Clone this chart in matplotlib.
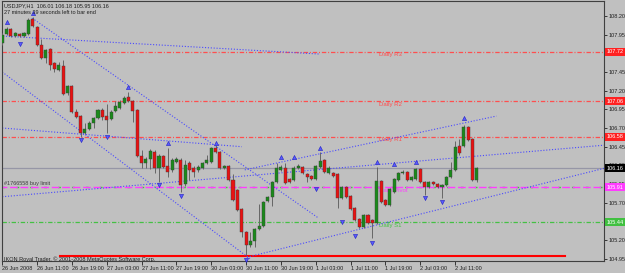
import numpy as np
import matplotlib.pyplot as plt
from matplotlib.transforms import blended_transform_factory

# USDJPY H1 candles, 26 Jun 2008 03:00 .. 2 Jul 2008 16:00
opens = [107.84, 107.96, 108.03, 107.93, 107.96, 107.93, 107.96, 108.16, 108.05, 107.81,
         107.64, 107.76, 107.57, 107.48, 107.53, 107.17, 107.26, 106.91, 106.86, 106.63,
         106.69, 106.77, 106.83, 106.94, 106.86, 106.82, 106.93, 106.97, 107.04, 107.12,
         107.06, 106.94, 106.33, 106.23, 106.29, 106.38, 106.16, 106.33, 106.19, 106.14,
         106.25, 106.27, 105.95, 106.23, 106.16, 106.14, 106.16, 106.23, 106.25, 106.43,
         106.38, 106.16, 106.19, 106.00, 105.87, 105.62, 105.31, 105.13, 105.19, 105.35,
         105.39, 105.72, 105.78, 105.98, 106.14, 106.16, 106.02, 106.00, 106.16, 106.18,
         106.08, 106.06, 106.02, 106.18, 106.27, 106.10, 106.10, 106.08, 105.76, 105.91,
         105.79, 105.63, 105.48, 105.38, 105.54, 105.47, 105.43, 105.99, 105.74, 105.67,
         105.84, 106.00, 106.10, 106.11, 106.00, 106.02, 106.15, 105.98, 105.91, 105.98,
         105.95, 105.91, 105.94, 106.04, 106.14, 106.46, 106.46, 106.71, 106.55, 106.00]
highs = [107.97, 108.05, 108.04, 107.99, 107.97, 107.99, 108.17, 108.19, 108.07, 107.89,
         107.76, 107.77, 107.58, 107.58, 107.61, 107.28, 107.28, 106.96, 106.87, 106.77,
         106.79, 106.85, 106.96, 106.97, 107.02, 106.94, 107.06, 107.08, 107.13, 107.18,
         107.08, 106.96, 106.41, 106.31, 106.42, 106.41, 106.35, 106.34, 106.43, 106.30,
         106.31, 106.30, 106.27, 106.26, 106.19, 106.21, 106.25, 106.34, 106.45, 106.47,
         106.39, 106.21, 106.21, 106.08, 105.88, 105.63, 105.32, 105.31, 105.36, 105.68,
         105.72, 105.79, 105.99, 106.23, 106.21, 106.23, 106.03, 106.19, 106.22, 106.19,
         106.10, 106.07, 106.21, 106.38, 106.29, 106.19, 106.11, 106.10, 105.92, 105.92,
         105.80, 105.64, 105.50, 105.55, 105.55, 105.48, 106.18, 106.00, 105.75, 105.90,
         106.03, 106.11, 106.14, 106.12, 106.06, 106.16, 106.16, 105.99, 105.99, 105.99,
         105.96, 105.95, 106.06, 106.25, 106.53, 106.55, 106.74, 106.73, 106.57, 106.18]
lows = [107.81, 107.95, 107.92, 107.92, 107.92, 107.92, 107.95, 108.05, 107.80, 107.62,
        107.57, 107.48, 107.45, 107.46, 107.14, 107.14, 106.90, 106.83, 106.58, 106.62,
        106.67, 106.70, 106.82, 106.81, 106.63, 106.81, 106.91, 106.96, 107.02, 107.05,
        106.78, 106.31, 106.16, 106.16, 106.15, 106.10, 105.98, 106.16, 106.04, 106.11,
        106.23, 105.84, 105.92, 106.00, 106.04, 106.11, 106.15, 106.22, 106.23, 106.37,
        106.15, 106.15, 105.99, 105.72, 105.59, 105.24, 105.00, 105.11, 105.11, 105.34,
        105.38, 105.71, 105.66, 105.96, 106.12, 105.95, 105.96, 105.99, 106.15, 106.08,
        105.98, 106.00, 106.00, 106.16, 106.10, 106.08, 106.04, 105.63, 105.75, 105.76,
        105.60, 105.46, 105.36, 105.36, 105.42, 105.23, 105.42, 105.70, 105.66, 105.66,
        105.83, 105.99, 106.08, 105.99, 105.99, 106.00, 105.96, 105.80, 105.90, 105.94,
        105.90, 105.76, 105.92, 106.03, 106.12, 106.34, 106.45, 106.53, 105.99, 105.98]
closes = [107.95, 108.03, 107.93, 107.97, 107.93, 107.97, 108.15, 108.07, 107.81, 107.64,
          107.74, 107.54, 107.49, 107.54, 107.16, 107.26, 106.91, 106.85, 106.63, 106.69,
          106.77, 106.83, 106.94, 106.85, 106.81, 106.91, 107.00, 107.05, 107.10, 107.06,
          106.93, 106.33, 106.23, 106.29, 106.39, 106.16, 106.33, 106.18, 106.11, 106.27,
          106.29, 105.94, 106.21, 106.14, 106.11, 106.18, 106.23, 106.27, 106.43, 106.38,
          106.16, 106.19, 106.00, 105.74, 105.60, 105.31, 105.13, 105.19, 105.35, 105.39,
          105.71, 105.78, 105.98, 106.16, 106.18, 105.96, 105.98, 106.16, 106.19, 106.10,
          106.04, 106.02, 106.19, 106.26, 106.11, 106.16, 106.06, 105.76, 105.91, 105.78,
          105.62, 105.47, 105.38, 105.54, 105.43, 105.43, 105.99, 105.71, 105.67, 105.88,
          106.02, 106.10, 106.11, 106.00, 106.04, 106.15, 105.98, 105.91, 105.98, 105.95,
          105.91, 105.94, 106.04, 106.14, 106.45, 106.37, 106.71, 106.54, 106.00, 106.16]

time_label_bars = [0, 8, 16, 24, 32, 40, 48, 56, 64, 72, 80, 88, 96, 104]
time_labels = ['26 Jun 2008', '26 Jun 11:00', '26 Jun 19:00', '27 Jun 03:00',
               '27 Jun 11:00', '27 Jun 19:00', '30 Jun 03:00', '30 Jun 11:00',
               '30 Jun 19:00', '1 Jul 03:00', '1 Jul 11:00', '1 Jul 19:00',
               '2 Jul 03:00', '2 Jul 11:00']
# 107.70 and 105.45 sit under the level boxes, so they carry no label
price_ticks = [104.95, 105.20, 105.45, 105.70, 105.95, 106.20, 106.45,
               106.70, 106.95, 107.20, 107.45, 107.70, 107.95, 108.20]
hidden_ticks = [105.45, 107.70]

level_names = ['Daily R3', 'Daily R2', 'Daily R1', 'Daily Pivot', 'Daily S1']
level_prices = [107.72, 107.06, 106.58, 105.91, 105.44]
current_price = 106.16
order_price = 105.91
order_label = '#1766558 buy limit'
red_line_price = 104.99
red_line_bars = [13.3, 129.2]

# trend lines: (bar0, price0, bar1, price1)
trend_lines = [
    (0.2, 107.93, 72.9, 107.69),
    (6.9, 108.17, 72.5, 105.50),
    (0.0, 107.45, 56.9, 104.95),
    (0.0, 106.70, 55.0, 106.45),
    (0.0, 105.78, 138.2, 106.47),
    (55.7, 106.14, 113.5, 106.86),
    (56.2, 104.97, 138.2, 106.16),
]

up_fractal_bars = [1, 7, 29, 38, 49, 64, 67, 73, 86, 90, 95, 106]
up_fractal_prices = [108.12, 108.24, 107.25, 106.50, 106.50, 106.31, 106.31,
                     106.43, 106.25, 106.22, 106.25, 106.83]
down_fractal_bars = [4, 18, 24, 36, 41, 56, 72, 78, 81, 85, 97, 101]
down_fractal_prices = [107.83, 106.54, 106.58, 105.94, 105.79, 104.93, 105.88,
                       105.44, 105.26, 105.16, 105.76, 105.71]

bg = '#c0c0c0'
plt.rcParams['font.family'] = ['Liberation Sans', 'DejaVu Sans']
fig = plt.figure(figsize=(6.25, 2.73), dpi=100, facecolor=bg)
ax = fig.add_axes([2 / 625, 12 / 273, 602 / 625, 260 / 273], facecolor=bg)

o = np.array(opens)
c = np.array(closes)
x = np.arange(len(o))
up = c >= o

# horizontal levels
lvl_colors = ['#ff4e4e', '#ff4e4e', '#ff4e4e', '#ff3cff', '#44c044']
dashdot = (0, (3.5, 1.5, 0.8, 1.5))
for name, p, col in zip(level_names, level_prices, lvl_colors):
    if name == 'Daily Pivot':
        ax.axhline(p, color='#40c040', lw=1.0, ls=(0, (2, 8)), zorder=1)
        ax.axhline(p, color=col, lw=1.0, ls=(2, (5.5, 2.0)), zorder=1)
    else:
        ax.axhline(p, color=col, lw=0.9, ls=dashdot, zorder=1)
    ax.text(86.5, p - 0.04, name, color=col, fontsize=4.3, ha='left', va='center', zorder=2)

ax.axhline(current_price, color='#9696a6', lw=0.9, zorder=1)
ax.text(0.3, order_price + 0.045, order_label, color='#404040', fontsize=4,
        ha='left', va='center', zorder=2)
ax.plot(red_line_bars, [red_line_price, red_line_price], color='#ff0000', lw=1.5, zorder=2)

for b0, p0, b1, p1 in trend_lines:
    ax.plot([b0, b1], [p0, p1], color='#4a4aff', lw=0.8, ls=(0, (1, 1.6)), zorder=2)

# candles
ax.vlines(x, lows, highs, color='#666666', lw=0.7, zorder=3)
heights = np.maximum(np.abs(c - o), 0.006)
ax.bar(x, heights, bottom=np.minimum(o, c), width=0.7,
       color=np.where(up, '#1a8a1a', '#e81212'), edgecolor='#3c3c3c',
       linewidth=0.3, zorder=4)

ax.plot(up_fractal_bars, up_fractal_prices, ls='none', marker='^', ms=3.0,
        color='#5a5aff', mec='#2020c0', mew=0.4, zorder=5, clip_on=False)
ax.plot(down_fractal_bars, down_fractal_prices, ls='none', marker='v', ms=3.0,
        color='#5a5aff', mec='#2020c0', mew=0.4, zorder=5, clip_on=False)

ax.set_xlim(-0.05, 138.2)
ax.set_ylim(104.92, 108.40)

ax.yaxis.tick_right()
ax.set_yticks(price_ticks)
ax.set_yticklabels(['' if t in hidden_ticks else '%.2f' % t for t in price_ticks])
ax.set_xticks(time_label_bars)
ax.set_xticklabels(time_labels)
for lab in ax.get_xticklabels():
    lab.set_ha('left')
ax.tick_params(axis='y', length=2, width=0.6, pad=1.5, labelsize=4, colors='#202020')
ax.tick_params(axis='x', length=3, width=0.6, pad=0.5, labelsize=4, colors='#202020')
for s in ax.spines.values():
    s.set_color('#404040')
    s.set_linewidth(0.8)

# price boxes on the right
tr = blended_transform_factory(ax.transAxes, ax.transData)
box_prices = level_prices[:3] + [current_price, level_prices[3], level_prices[4]]
box_colors = ['#ff2020', '#ff2020', '#ff2020', '#000000', '#ff3cff', '#40c040']
for p, col in zip(box_prices, box_colors):
    ax.text(1.004, p, '%.2f' % p, transform=tr, fontsize=4, color='white',
            ha='left', va='center', clip_on=False, zorder=10,
            bbox=dict(boxstyle='square,pad=0.25', fc=col, ec='none'))

# header and footer text
fig.text(4 / 625, 1 - 6 / 273, 'USDJPY,H1  106.01 106.18 105.95 106.16',
         fontsize=4, color='#202020', va='center')
fig.text(4 / 625, 1 - 12 / 273, '27 minutes 39 seconds left to bar end',
         fontsize=4, color='#202020', va='center')
fig.text(4 / 625, 1 - 259 / 273, 'IKON Royal Trader, \u00a9 2001-2008 MetaQuotes Software Corp.',
         fontsize=4, color='#202020', va='center')

fig.savefig('out.png', dpi=100, facecolor=bg)
